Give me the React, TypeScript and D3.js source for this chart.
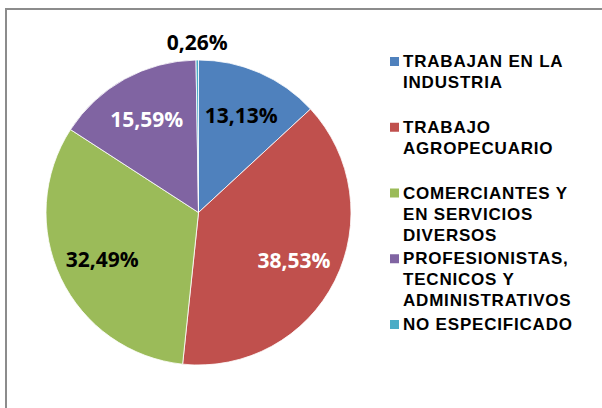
import React from "react";
import * as d3 from "d3";

const categories = [
  ["TRABAJAN EN LA", "INDUSTRIA"],
  ["TRABAJO", "AGROPECUARIO"],
  ["COMERCIANTES Y", "EN SERVICIOS", "DIVERSOS"],
  ["PROFESIONISTAS,", "TECNICOS Y", "ADMINISTRATIVOS"],
  ["NO ESPECIFICADO"],
];
const values = [13.13, 38.53, 32.49, 15.59, 0.26];
const labels = ["13,13%", "38,53%", "32,49%", "15,59%", "0,26%"];
const colors = ["#4F81BD", "#C0504D", "#9BBB59", "#8064A2", "#4BACC6"];
const labelColors = ["#000", "#fff", "#000", "#fff", "#000"];

const W = 602;
const H = 408;
const cx = 198.5;
const cy = 212.5;
const R = 152.5;

export default function App() {
  const pie = d3.pie<number>().sort(null).value((d) => d)(values);
  const arc = d3.arc<d3.PieArcDatum<number>>().innerRadius(0).outerRadius(R);
  const labelArc = d3
    .arc<d3.PieArcDatum<number>>()
    .innerRadius(R * 0.7)
    .outerRadius(R * 0.7);
  const outerArc = d3
    .arc<d3.PieArcDatum<number>>()
    .innerRadius(R + 18)
    .outerRadius(R + 18);

  const legendY = d3.scaleLinear().domain([0, 4]).range([67, 330]);

  return (
    <svg
      width={W}
      height={H}
      style={{ position: "absolute", left: 0, top: 0, background: "#fff" }}
    >
      <rect x={6} y={9} width={800} height={600} fill="#fff" stroke="#8c8c8c" strokeWidth={2} />
      <g transform={`translate(${cx},${cy})`}>
        {pie.map((p, i) => (
          <path key={i} d={arc(p) || ""} fill={colors[i]} stroke="#fff" strokeWidth={0.8} />
        ))}
        {pie.map((p, i) => {
          const small = values[i] < 2;
          const [x, y] = small ? outerArc.centroid(p) : labelArc.centroid(p);
          return (
            <text
              key={i}
              x={x}
              y={y}
              textAnchor="middle"
              dominantBaseline="central"
              fill={labelColors[i]}
              style={{ fontFamily: "'Open Sans', sans-serif", fontWeight: 700, fontSize: 21 }}
            >
              {labels[i]}
            </text>
          );
        })}
      </g>
      <g>
        {categories.map((lines, i) => {
          const by = legendY(i);
          return (
            <g key={i}>
              <rect x={390} y={by - 10} width={9} height={9} fill={colors[i]} />
              {lines.map((ln, j) => (
                <text
                  key={j}
                  x={403}
                  y={by + j * 21}
                  fill="#000"
                  style={{
                    fontFamily: "'Liberation Sans', Arial, sans-serif",
                    fontWeight: 700,
                    fontSize: 17,
                    letterSpacing: 0.8,
                  }}
                >
                  {ln}
                </text>
              ))}
            </g>
          );
        })}
      </g>
    </svg>
  );
}
